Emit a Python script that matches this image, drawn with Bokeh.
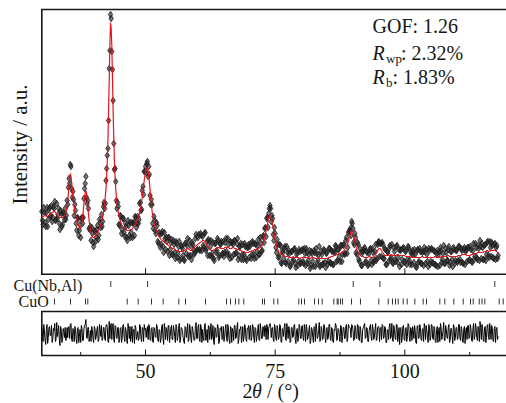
import math
import numpy as np
from bokeh.plotting import figure
from bokeh.models import Range1d, Label
from bokeh.core.properties import value
from bokeh.embed import file_html
from bokeh.resources import INLINE

# ---------------- data ----------------
TWO_THETA_START = 30.0
TWO_THETA_STEP = 0.125

calc_intensity = [
    56, 56, 57, 57, 58, 58, 58, 57, 57, 57, 58, 58, 59, 59, 60, 60, 61, 61, 62, 62,
    62, 61, 60, 59, 58, 57, 57, 56, 56, 56, 56, 56, 56, 56, 57, 58, 59, 61, 63, 67,
    73, 80, 88, 95, 100, 97, 91, 84, 77, 71, 66, 62, 59, 56, 53, 51, 49, 47, 46, 45,
    45, 47, 51, 57, 63, 70, 77, 81, 83, 80, 75, 67, 59, 53, 48, 44, 41, 39, 37, 36,
    36, 36, 37, 38, 39, 40, 41, 42, 44, 45, 47, 49, 51, 54, 57, 61, 65, 70, 77, 85,
    96, 112, 133, 162, 193, 228, 251, 245, 228, 197, 163, 136, 113, 97, 85, 77, 70, 65, 61, 58,
    55, 53, 51, 49, 48, 47, 46, 45, 45, 44, 44, 43, 43, 43, 43, 43, 44, 44, 44, 44,
    45, 46, 47, 48, 49, 50, 52, 53, 55, 57, 59, 61, 64, 68, 72, 77, 82, 87, 93, 98,
    102, 105, 106, 105, 103, 98, 91, 84, 76, 69, 63, 58, 54, 51, 48, 46, 44, 42, 41, 39,
    38, 37, 36, 35, 34, 33, 33, 32, 32, 31, 31, 30, 30, 29, 29, 28, 28, 27, 27, 26,
    26, 25, 25, 25, 25, 24, 24, 23, 23, 23, 23, 22, 22, 22, 22, 22, 22, 22, 22, 22,
    23, 23, 24, 24, 25, 25, 25, 24, 24, 23, 23, 23, 24, 25, 26, 26, 27, 27, 28, 28,
    29, 29, 30, 30, 31, 31, 32, 32, 33, 33, 33, 32, 31, 30, 29, 28, 27, 26, 25, 24,
    24, 23, 23, 23, 23, 23, 24, 24, 25, 25, 26, 26, 26, 26, 26, 25, 25, 25, 25, 25,
    25, 25, 26, 26, 26, 26, 27, 26, 26, 25, 25, 25, 25, 25, 26, 26, 26, 25, 25, 25,
    25, 24, 24, 24, 24, 23, 23, 23, 23, 22, 22, 22, 22, 21, 21, 21, 21, 21, 21, 21,
    22, 22, 22, 22, 23, 23, 23, 23, 24, 24, 24, 24, 25, 25, 25, 25, 26, 26, 26, 27,
    28, 30, 32, 34, 37, 40, 43, 46, 49, 52, 55, 57, 58, 58, 56, 53, 49, 45, 41, 37,
    34, 31, 28, 26, 24, 22, 21, 20, 20, 19, 19, 18, 18, 18, 18, 17, 17, 17, 17, 17,
    17, 16, 16, 16, 16, 16, 16, 16, 17, 16, 16, 16, 16, 16, 16, 16, 16, 15, 15, 15,
    16, 16, 16, 16, 17, 16, 16, 16, 16, 16, 16, 16, 16, 15, 15, 15, 16, 16, 16, 16,
    16, 15, 15, 15, 15, 15, 16, 16, 16, 15, 15, 15, 15, 15, 15, 15, 15, 15, 15, 15,
    15, 15, 16, 16, 16, 16, 17, 17, 17, 17, 18, 18, 18, 18, 19, 19, 19, 19, 20, 20,
    20, 20, 21, 21, 22, 22, 23, 24, 25, 26, 27, 28, 30, 32, 35, 37, 40, 42, 43, 42,
    41, 38, 35, 32, 29, 26, 24, 22, 21, 20, 19, 18, 18, 17, 17, 17, 17, 16, 16, 16,
    16, 16, 16, 16, 17, 17, 17, 16, 16, 16, 16, 16, 17, 17, 18, 19, 20, 21, 23, 24,
    25, 25, 25, 24, 23, 22, 21, 20, 19, 18, 18, 18, 18, 18, 18, 18, 18, 18, 19, 19,
    19, 18, 18, 18, 18, 18, 18, 18, 19, 19, 19, 18, 18, 18, 18, 18, 18, 18, 18, 18,
    18, 17, 17, 17, 17, 17, 17, 17, 17, 16, 16, 16, 16, 16, 16, 16, 16, 16, 16, 16,
    16, 16, 16, 16, 16, 16, 17, 17, 17, 16, 16, 16, 16, 16, 16, 16, 16, 16, 16, 16,
    16, 16, 16, 16, 16, 16, 17, 17, 17, 16, 16, 16, 16, 16, 16, 16, 17, 17, 17, 17,
    17, 17, 17, 17, 17, 17, 18, 18, 18, 17, 17, 17, 17, 17, 17, 17, 17, 17, 17, 17,
    17, 17, 18, 18, 18, 18, 18, 18, 19, 19, 19, 19, 19, 19, 19, 18, 18, 18, 18, 18,
    18, 18, 19, 19, 19, 19, 20, 20, 20, 20, 20, 20, 21, 21, 21, 21, 21, 21, 21, 21,
    21, 21, 22, 22, 22, 22, 23, 23, 23, 22, 22, 22, 23, 23, 23, 23, 23, 23, 24, 23,
    23, 22, 22, 21, 21,
]

obs_intensity = [
    62, 53, 49, 66, 61, 51, 47, 61, 66, 47, 54, 64, 66, 57, 58, 68, 52, 56, 67, 65,
    72, 53, 54, 70, 55, 59, 65, 50, 44, 63, 60, 47, 49, 61, 59, 54, 65, 54, 58, 73,
    69, 86, 95, 90, 109, 107, 85, 76, 82, 74, 58, 69, 63, 50, 43, 56, 55, 38, 43, 49,
    36, 55, 56, 50, 56, 75, 85, 90, 97, 76, 70, 73, 65, 45, 44, 47, 33, 46, 40, 31,
    27, 43, 42, 32, 36, 44, 48, 34, 38, 54, 51, 46, 59, 47, 52, 67, 71, 65, 70, 93,
    105, 118, 125, 153, 205, 223, 259, 255, 222, 204, 173, 130, 104, 105, 92, 73, 65, 71, 67, 49,
    48, 58, 57, 40, 44, 55, 55, 41, 37, 50, 47, 36, 33, 53, 48, 38, 51, 36, 41, 51,
    36, 50, 51, 38, 57, 56, 46, 50, 57, 50, 54, 70, 71, 63, 64, 83, 87, 79, 102, 102,
    107, 101, 110, 112, 97, 107, 99, 78, 69, 74, 69, 50, 45, 57, 53, 43, 40, 51, 48, 32,
    30, 41, 39, 26, 29, 40, 42, 27, 21, 41, 35, 24, 36, 32, 22, 36, 36, 18, 24, 31,
    34, 19, 19, 33, 29, 21, 15, 32, 30, 16, 20, 27, 32, 13, 15, 28, 27, 25, 18, 14,
    13, 30, 30, 20, 28, 35, 17, 18, 33, 28, 18, 14, 31, 29, 24, 19, 21, 35, 39, 23,
    24, 36, 39, 24, 23, 40, 38, 23, 37, 28, 26, 40, 41, 23, 25, 32, 18, 34, 32, 18,
    27, 33, 17, 20, 31, 15, 13, 30, 30, 21, 23, 35, 33, 16, 18, 30, 29, 32, 19, 20,
    32, 17, 21, 31, 35, 22, 19, 35, 29, 19, 15, 32, 31, 16, 31, 29, 19, 33, 33, 20,
    21, 30, 35, 14, 18, 27, 27, 30, 14, 19, 29, 14, 19, 30, 27, 15, 13, 26, 26, 29,
    16, 27, 30, 15, 19, 32, 30, 19, 15, 30, 29, 16, 22, 28, 34, 19, 19, 36, 30, 22,
    23, 37, 38, 31, 45, 46, 37, 55, 56, 46, 60, 65, 68, 65, 52, 58, 55, 39, 33, 46,
    40, 26, 21, 34, 29, 16, 17, 29, 28, 11, 10, 23, 21, 15, 25, 27, 11, 10, 27, 21,
    12, 23, 20, 7, 8, 22, 22, 12, 14, 24, 25, 10, 6, 19, 21, 8, 12, 24, 22, 10,
    11, 23, 24, 12, 10, 25, 20, 8, 25, 21, 10, 13, 19, 23, 5, 8, 22, 20, 12, 7,
    23, 21, 7, 25, 20, 10, 13, 19, 27, 7, 8, 22, 19, 9, 10, 24, 23, 11, 6, 20,
    21, 9, 12, 25, 25, 11, 10, 23, 22, 9, 9, 22, 21, 28, 27, 12, 13, 24, 24, 17,
    12, 28, 28, 12, 19, 28, 29, 19, 20, 33, 36, 20, 26, 41, 42, 43, 45, 38, 52, 50,
    45, 31, 29, 40, 36, 21, 19, 31, 29, 14, 12, 25, 21, 8, 8, 21, 23, 24, 26, 11,
    12, 22, 21, 8, 9, 20, 24, 25, 13, 9, 25, 21, 11, 13, 22, 29, 13, 15, 29, 31,
    32, 17, 30, 30, 17, 31, 29, 15, 15, 25, 24, 9, 9, 22, 21, 12, 25, 28, 14, 16,
    29, 11, 10, 26, 22, 14, 12, 27, 28, 11, 16, 24, 7, 23, 24, 9, 14, 25, 26, 12,
    11, 22, 23, 9, 14, 27, 26, 13, 9, 22, 20, 9, 23, 19, 11, 24, 19, 7, 6, 23,
    24, 11, 12, 25, 22, 10, 10, 21, 22, 8, 26, 22, 10, 24, 19, 12, 7, 25, 23, 9,
    12, 25, 24, 11, 10, 23, 22, 9, 8, 20, 23, 7, 19, 22, 8, 26, 23, 11, 14, 20,
    28, 10, 10, 25, 21, 13, 13, 24, 27, 8, 11, 22, 22, 14, 7, 26, 24, 10, 13, 23,
    23, 11, 13, 27, 27, 14, 11, 25, 23, 11, 10, 24, 26, 9, 22, 24, 12, 26, 26, 13,
    14, 27, 24, 12, 11, 23, 30, 14, 17, 30, 26, 16, 14, 28, 25, 13, 33, 27, 15, 30,
    26, 14, 14, 28, 29, 13, 19, 31, 32, 18, 16, 32, 26, 17, 31, 28, 16, 15, 29, 30,
    14, 26, 28, 15, 18,
]

# Bragg reflection positions (2theta, deg)
cu_nb_al_peaks = [43.3, 50.4, 74.1, 90.05, 95.2, 117.35]
cuo_peaks = [32.45, 35.53, 38.43, 38.87, 46.47, 48.59, 51.15, 53.41,
             56.42, 57.71, 61.57, 65.62, 66.39, 67.35, 67.99, 68.95, 72.56, 72.94,
             74.73, 75.51, 79.56, 80.08, 80.66, 82.59, 83.36, 84.07, 86.31, 86.96,
             87.15, 87.6, 87.98, 89.72, 91.45, 94.98, 96.8, 97.62, 98.2, 98.72,
             99.69, 100.46, 101.93, 103.54, 104.18, 106.75, 107.71, 109.45, 111.26,
             112.67, 113.19, 114.35, 114.89, 115.43, 118.2, 118.97]

x_major_ticks = [50, 75, 100]
x_minor_ticks = [37.5, 62.5, 87.5, 112.5]

assert len(calc_intensity) == len(obs_intensity)
two_theta = TWO_THETA_START + TWO_THETA_STEP * np.arange(len(obs_intensity))
calc = np.array(calc_intensity, dtype=float)
obs = np.array(obs_intensity, dtype=float)
diff = obs - calc

# ---------------- layout constants (page pixels) ----------------
PX_PER_DEG = 5.186
X_ZERO_PX = 41.3      # page x of 2theta = 30
X_ZERO_DEG = 30.0


def deg(px):
    return X_ZERO_DEG + (px - X_ZERO_PX) / PX_PER_DEG


FIG_W, FIG_H = 506, 403

BASE_Y = 273          # page y of intensity 0 in the main panel
DIFF_Y0 = 333         # page y of zero difference
MAIN_TOP, MAIN_BOT = 9, 273.8
DIFF_TOP, DIFF_BOT = 311, 355
ROW1_Y, ROW2_Y = 283.5, 301
TICK_LABEL_Y = 378
BOX_RIGHT = 200       # beyond the visible range (clipped)
TEXT_SHIFT = 0.37     # measured baseline drift of rendered text, in em

INK = "#161616"
SERIF = "Liberation Serif"

p = figure(width=FIG_W, height=FIG_H,
           x_range=Range1d(deg(0), deg(FIG_W)),
           y_range=Range1d(FIG_H, 0),
           output_backend="svg", toolbar_location=None,
           x_axis_location=None, y_axis_location=None,
           min_border=0, outline_line_color=None,
           background_fill_color="white", border_fill_color="white")
p.grid.visible = False
p.extra_y_ranges = {
    "int": Range1d(BASE_Y - FIG_H, BASE_Y),
    "diff": Range1d(DIFF_Y0 - FIG_H, DIFF_Y0),
}

# boxes (left, top, bottom sides; right side lies beyond the picture)
for top, bot in ((MAIN_TOP, MAIN_BOT), (DIFF_TOP, DIFF_BOT)):
    p.line(x=[BOX_RIGHT, X_ZERO_DEG, X_ZERO_DEG, BOX_RIGHT],
           y=[top, top, bot, bot],
           line_color=INK, line_width=1.6, line_join="miter")

# inward ticks: bottom of main panel and bottom axis
nmaj, nmin = len(x_major_ticks), len(x_minor_ticks)
p.segment(x0=x_major_ticks, y0=[MAIN_BOT] * nmaj,
          x1=x_major_ticks, y1=[MAIN_BOT - 6] * nmaj, line_color=INK, line_width=1)
p.segment(x0=x_major_ticks, y0=[DIFF_BOT] * nmaj,
          x1=x_major_ticks, y1=[DIFF_BOT - 6] * nmaj, line_color=INK, line_width=1)
p.segment(x0=x_minor_ticks, y0=[DIFF_BOT] * nmin,
          x1=x_minor_ticks, y1=[DIFF_BOT - 3.5] * nmin, line_color=INK, line_width=1)
p.text(x=x_major_ticks, y=[TICK_LABEL_Y - TEXT_SHIFT * 20] * nmaj,
       text=[str(t) for t in x_major_ticks],
       text_font=value(SERIF), text_font_size="20px", text_color=INK,
       text_align="center", text_baseline="alphabetic")

# observed, calculated
p.scatter(two_theta, obs, y_range_name="int", marker="diamond", size=6.5,
          fill_color="#1a1a1a", fill_alpha=0.6,
          line_color="#222222", line_width=1.0, line_alpha=0.85)
p.line(two_theta, calc, y_range_name="int", line_color="#e3141b", line_width=1.2)

# Bragg positions
p.scatter(cu_nb_al_peaks, [ROW1_Y] * len(cu_nb_al_peaks), marker="dash",
          angle=math.pi / 2, size=6, line_color="#333333", line_width=1)
p.scatter(cuo_peaks, [ROW2_Y] * len(cuo_peaks), marker="dash",
          angle=math.pi / 2, size=6, line_color="#333333", line_width=1)

# difference
p.line(two_theta, diff, y_range_name="diff", line_color="#000000", line_width=1.0)


def lab(px, y, text, size=20, style="normal", shift=True, **kw):
    dy = TEXT_SHIFT * size if shift else 0
    p.add_layout(Label(x=deg(px), y=y - dy, text=text, text_font=SERIF,
                       text_font_size=f"{size}px", text_font_style=style,
                       text_color=INK, text_baseline=kw.pop("baseline", "alphabetic"),
                       text_align=kw.pop("align", "left"), **kw))


# y-axis title
lab(19.5, 144, "Intensity / a.u.", size=21, angle=math.pi / 2,
    align="center", baseline="middle", shift=False)
# x-axis title
lab(242, 397.5, "2")
lab(251.5, 397.5, "θ", style="italic")
lab(266.5, 397.5, "/ (°)")
# fit statistics
lab(372, 33, "GOF: 1.26")
lab(372, 59.5, "R", style="italic")
lab(385.5, 63, "wp", size=13)
lab(400.5, 59.5, ": 2.32%")
lab(372, 83.5, "R", style="italic")
lab(385.5, 87, "b", size=13)
lab(392, 83.5, ": 1.83%")
# phase labels
lab(13, 290.7, "Cu(Nb,Al)", size=16)
lab(18, 307.3, "CuO", size=16)

open("out.html", "w").write(file_html(p, INLINE))
